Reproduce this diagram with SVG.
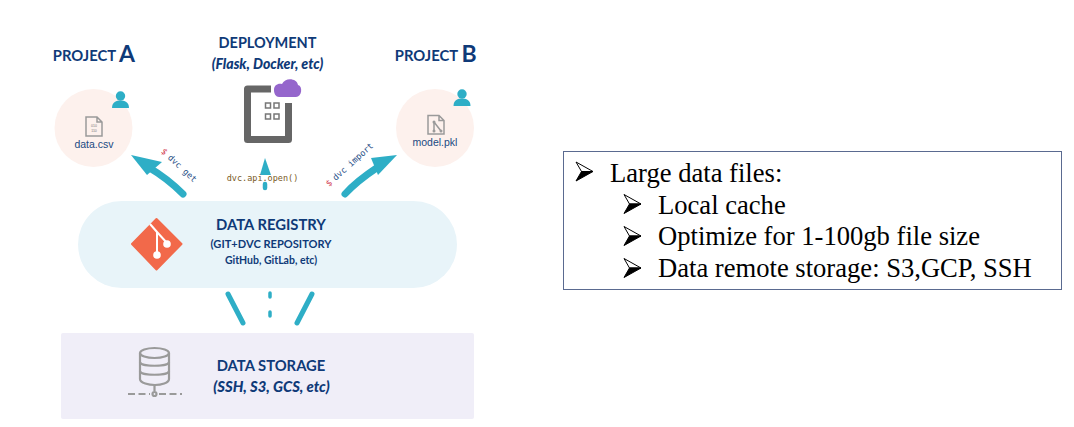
<svg xmlns="http://www.w3.org/2000/svg" width="1074" height="427" viewBox="0 0 1074 427">
<style>
.h{font-family:"Lato","Liberation Sans",sans-serif;font-weight:700;fill:#0f3a78;text-anchor:middle}
.i{font-style:italic;font-weight:900}
.f{font-family:"Liberation Sans",sans-serif;fill:#1a4a82;text-anchor:middle;font-size:10.500px}
.m{font-family:"DejaVu Sans Mono","Liberation Mono",monospace;font-size:8.500px}
.t{font-family:"Liberation Serif",serif;font-size:26.600px;fill:#000}
.c{fill:none;stroke:#2eaec6;stroke-linecap:round}
.g{fill:none;stroke:#9a9a9a;stroke-width:1.500}
.u{fill:#2eaec6}
</style>
<defs>
<g id="bul"><path d="M0 0L17 9.500L5.500 9.500Z" fill="#fff" stroke="#000" stroke-width="1"/><path d="M5.500 9.500H17L0 19Z" fill="#000" stroke="#000" stroke-width="1"/></g>
<g id="user"><circle cx="0" cy="-5" r="4.700" class="u"/><path d="M-8.500 7C-8.500 1 -4 -0.500 0 -0.500C4 -0.500 8.500 1 8.500 7Z" class="u"/></g>
</defs>
<rect width="1074" height="427" fill="#fff"/>

<g id="connectors">
<path class="c" stroke-width="7" d="M183 194C171 182 160 174 148 167"/>
<path d="M131 155L162 162L147 175Z" class="u"/>
<path class="c" stroke-width="7" d="M345 194C354 184 366 175 378 167"/>
<path d="M397 155L371 158L378 175Z" class="u"/>
<path class="c" stroke-width="4.500" d="M265 184V188"/>
<path d="M265 158L271 175H260Z" class="u"/>
<path class="c" stroke-width="5" d="M228 294L243 323"/>
<path class="c" stroke-width="5" d="M312 294L297 323"/>
<path class="c" stroke-width="3.500" d="M270 293V297M270 312V316"/>
</g>

<g id="project-a">
<text x="84.500" y="60.500" class="h" font-size="14.800">PROJECT</text>
<text x="127" y="62" class="h" font-size="23">A</text>
<circle cx="93.500" cy="128" r="39" fill="#fdf1ed"/>
<use href="#user" x="120.500" y="101"/>
<path class="g" d="M86 117H97L102 122V136H86ZM97 117V122H102"/>
<text x="94" y="127" font-family="Liberation Sans, sans-serif" font-size="3.500" fill="#777" text-anchor="middle">010</text>
<text x="94" y="132" font-family="Liberation Sans, sans-serif" font-size="3.500" fill="#777" text-anchor="middle">110</text>
<text x="94" y="147.500" class="f">data.csv</text>
</g>

<g id="deployment">
<text x="267.500" y="48" class="h" font-size="14.500">DEPLOYMENT</text>
<text x="267.500" y="69" class="h i" font-size="14.100">(Flask, Docker, etc)</text>
<path fill="none" stroke="#666" stroke-width="7" stroke-linejoin="round" d="M271 89H247.500V139.500H288.500V103"/>
<path d="M274 90C274 85 278 83 282 84C285 77 297 78 298 85C303 86 302 97 296 97H279C276 97 274 94 274 90Z" fill="#9566cc"/>
<g fill="none" stroke="#777" stroke-width="1.500"><rect x="265.500" y="103" width="5" height="5"/><rect x="274" y="103" width="5" height="5"/><rect x="265.500" y="114" width="5" height="5"/><rect x="274" y="114" width="5" height="5"/></g>
<text x="262.500" y="181" class="m" fill="#7a5a1e" text-anchor="middle">dvc.api.open()</text>
</g>

<g id="project-b">
<text x="426.500" y="60.500" class="h" font-size="14.800">PROJECT</text>
<text x="469" y="62" class="h" font-size="23">B</text>
<circle cx="435" cy="128" r="39" fill="#fdf1ed"/>
<use href="#user" x="462" y="99"/>
<path class="g" d="M428 115.500H439L444 120.500V134H428ZM439 115.500V120.500H444M434 122V131M434 122L441 131"/>
<g fill="#9a9a9a"><circle cx="434" cy="122" r="1.500"/><circle cx="434" cy="131" r="1.500"/><circle cx="441" cy="131" r="1.500"/></g>
<text x="435" y="146" class="f">model.pkl</text>
</g>

<g id="labels">
<text transform="translate(160.500 152) rotate(43)" class="m"><tspan fill="#d0334a">$</tspan><tspan fill="#1f4e86" dx="4">dvc get</tspan></text>
<text transform="translate(329 187) rotate(-42)" class="m"><tspan fill="#d0334a">$</tspan><tspan fill="#1f4e86" dx="4">dvc import</tspan></text>
</g>

<g id="data-registry">
<rect x="78" y="201" width="379" height="87" rx="43.500" fill="#e8f4f9"/>
<path d="M156.500 219L181.500 244L156.500 269.500L132 244Z" fill="#f2694a" stroke="#f2694a" stroke-width="2" stroke-linejoin="round"/>
<path d="M150 224L157 232V258M157 232L167 243" fill="none" stroke="#fff" stroke-width="2"/>
<circle cx="157" cy="255" r="3.800" fill="#fff"/><circle cx="167" cy="244" r="3.800" fill="#fff"/>
<text x="271" y="230" class="h" font-size="14.800">DATA REGISTRY</text>
<text x="271" y="248" class="h" font-size="11.100">(GIT+DVC REPOSITORY</text>
<text x="271" y="264" class="h" font-size="10.500">GitHub, GitLab, etc)</text>
</g>

<g id="data-storage">
<rect x="61" y="333" width="413" height="86" rx="2" fill="#f0eef8"/>
<g fill="none" stroke="#9a9a9a" stroke-width="2.200"><path d="M140 353V379C140 383 149 385 155 385C161 385 169 383 169 379V353"/><ellipse cx="154.500" cy="353" rx="14.500" ry="5"/><path d="M140 362C140 367 169 367 169 362M140 371C140 376 169 376 169 371M154.500 385V391"/><circle cx="154.500" cy="394" r="2"/><path stroke-dasharray="7 3.500" d="M128 394H150M159 394H182"/></g>
<text x="271" y="371" class="h" font-size="14.800">DATA STORAGE</text>
<text x="271.500" y="392" class="h i" font-size="14.800">(SSH, S3, GCS, etc)</text>
</g>

<g id="notes">
<rect x="563.500" y="151.500" width="498" height="138" fill="#fff" stroke="#5a6a90" stroke-width="1"/>
<use href="#bul" x="576" y="162"/>
<text x="610" y="182" class="t">Large data files:</text>
<use href="#bul" x="624" y="194.500"/>
<text x="658" y="213.500" class="t">Local cache</text>
<use href="#bul" x="624" y="226.500"/>
<text x="658" y="245" class="t">Optimize for 1-100gb file size</text>
<use href="#bul" x="624" y="258.500"/>
<text x="658" y="277" class="t">Data remote storage: S3,GCP, SSH</text>
</g>
</svg>
